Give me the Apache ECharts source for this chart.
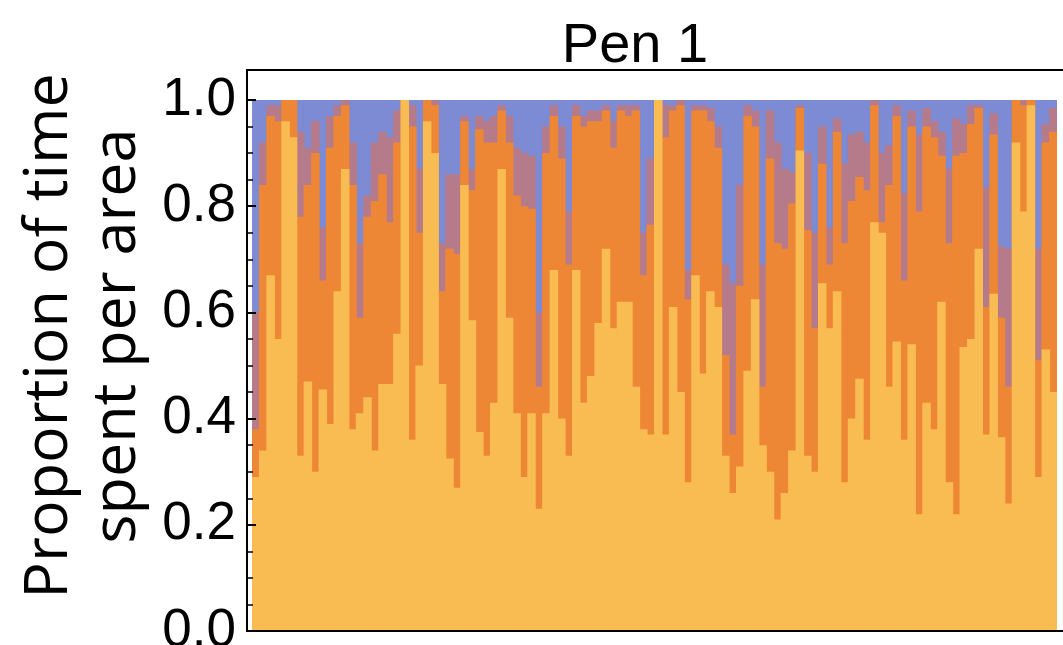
<!DOCTYPE html>
<html>
<head>
<meta charset="utf-8">
<script src="https://cdn.jsdelivr.net/npm/echarts@6/dist/echarts.min.js"></script>
<style>html,body{margin:0;padding:0;background:#fff;overflow:hidden;}#chart{width:1063px;height:645px;}</style>
</head>
<body>
<div id="chart"></div>
<script>
const yellowTop = [0.29,0.34,0.67,0.55,0.96,0.93,0.33,0.47,0.30,0.455,0.39,0.64,0.87,0.38,0.41,0.44,0.34,0.465,0.465,0.56,1.00,0.36,0.50,0.96,0.90,0.465,0.325,0.27,0.84,0.585,0.375,0.33,0.43,0.87,0.59,0.41,0.29,0.41,0.23,0.41,0.68,0.40,0.33,0.68,0.43,0.48,0.58,0.72,0.57,0.62,0.62,0.46,0.38,0.37,1.00,0.37,0.61,0.45,0.28,0.67,0.485,0.64,0.61,0.33,0.26,0.31,0.49,0.625,0.35,0.30,0.21,0.26,0.34,0.905,0.33,0.30,0.655,0.57,0.64,0.28,0.40,0.475,0.36,0.77,0.75,0.46,0.545,0.36,0.54,0.22,0.43,0.38,0.62,0.28,0.22,0.535,0.55,0.72,0.37,0.635,0.365,0.24,0.92,0.79,0.99,0.29,0.53,0.45];
const orangeTop = [0.38,0.84,0.97,0.96,1.00,1.00,0.78,0.84,0.90,0.66,0.91,0.97,0.99,0.84,0.59,0.78,0.81,0.86,0.77,0.92,1.00,0.95,0.75,1.00,0.99,0.64,0.72,0.71,0.96,0.83,0.945,0.92,0.92,0.98,0.92,0.82,0.80,0.795,0.46,0.90,0.97,0.89,0.69,0.97,0.95,0.96,0.96,0.98,0.91,0.98,0.97,0.98,0.67,0.765,1.00,0.93,0.98,0.99,0.625,0.98,0.98,0.96,0.91,0.52,0.37,0.65,0.97,0.95,0.46,0.89,0.73,0.72,0.805,0.985,0.755,0.57,0.88,0.69,0.94,0.73,0.81,0.855,0.83,0.99,0.77,0.84,0.97,0.66,0.95,0.79,0.95,0.93,0.895,0.73,0.895,0.90,0.955,0.985,0.61,0.935,0.59,0.46,1.00,0.99,1.00,0.51,0.92,0.94];
const mauveTop = [0.60,0.92,0.99,0.99,1.00,1.00,0.94,0.91,0.96,0.76,0.97,0.99,1.00,0.92,0.73,0.82,0.92,0.94,0.93,0.98,1.00,0.99,0.87,1.00,1.00,0.73,0.86,0.86,0.97,0.87,0.97,0.96,0.97,0.99,0.97,0.91,0.90,0.895,0.60,0.95,0.99,0.95,0.79,0.99,0.97,0.98,0.98,0.99,0.96,0.99,0.99,0.99,0.75,0.89,1.00,0.99,0.99,1.00,0.68,0.99,0.99,0.985,0.95,0.69,0.655,0.84,0.99,0.98,0.69,0.98,0.92,0.87,0.865,0.99,0.90,0.75,0.95,0.76,0.965,0.88,0.935,0.94,0.92,1.00,0.90,0.915,0.99,0.825,0.98,0.935,0.985,0.96,0.94,0.87,0.965,0.955,0.99,0.99,0.835,0.975,0.725,0.72,1.00,1.00,1.00,0.72,0.955,0.985];
const blueTop = yellowTop.map(() => 1.0);
const categories = yellowTop.map((_, i) => String(i + 1));
const yTicks = [0, 0.2, 0.4, 0.6, 0.8, 1.0];

const COLORS = { yellow: '#F9BC52', orange: '#EE8735', mauve: '#B57B8B', blue: '#7D8BD5' };

const chart = echarts.init(document.getElementById('chart'), null, { renderer: 'canvas', width: 1063, height: 645 });

function layer(name, data, color) {
  return {
    name, type: 'bar', data, xAxisIndex: 0, yAxisIndex: 0,
    barWidth: '114%', barGap: '-100%', barCategoryGap: 0,
    itemStyle: { color }, silent: true, animation: false
  };
}

chart.setOption({
  animation: false,
  title: {
    text: 'Pen 1', left: 630, top: 14, textAlign: 'center',
    textStyle: { fontFamily: 'Liberation Sans, Arial, sans-serif', fontSize: 56, fontWeight: 'normal', color: '#000' }
  },
  grid: [
    { left: 252, right: 6, top: 100, bottom: 14, containLabel: false, outerBoundsMode: 'none' },
    { left: 247, right: -30, top: 70, bottom: 14, containLabel: false, outerBoundsMode: 'none',
      show: true, borderColor: '#000', borderWidth: 2, backgroundColor: 'transparent', z: 10 }
  ],
  xAxis: [
    { type: 'category', gridIndex: 0, data: categories, show: false },
    { type: 'value', gridIndex: 1, show: false, min: 0, max: 1 }
  ],
  yAxis: [
    {
      type: 'value', gridIndex: 0, min: 0, max: 1, interval: 0.2, offset: 5,
      axisLine: { show: false },
      axisTick: { show: true, inside: true, length: 9, lineStyle: { color: '#000', width: 2 } },
      minorTick: { show: true, splitNumber: 4, length: 6, lineStyle: { color: '#000', width: 1.5 } },
      splitLine: { show: false },
      axisLabel: {
        margin: 11, color: '#000', fontSize: 53, fontFamily: 'Liberation Sans, Arial, sans-serif',
        formatter: v => yTicks.includes(+v.toFixed(2)) ? v.toFixed(1) : ''
      },
      z: 12
    },
    { type: 'value', gridIndex: 1, show: false, min: 0, max: 1 }
  ],
  graphic: [{
    type: 'text', x: 84, y: 336, rotation: Math.PI / 2,
    style: {
      text: 'Proportion of time\nspent per area', align: 'center', verticalAlign: 'middle',
      fontFamily: 'Open Sans, Noto Sans, sans-serif', fontSize: 61, lineHeight: 68, fill: '#000'
    }
  }],
  series: [
    layer('Area 4', blueTop, COLORS.blue),
    layer('Area 3', mauveTop, COLORS.mauve),
    layer('Area 2', orangeTop, COLORS.orange),
    layer('Area 1', yellowTop, COLORS.yellow)
  ]
});
</script>
</body>
</html>
